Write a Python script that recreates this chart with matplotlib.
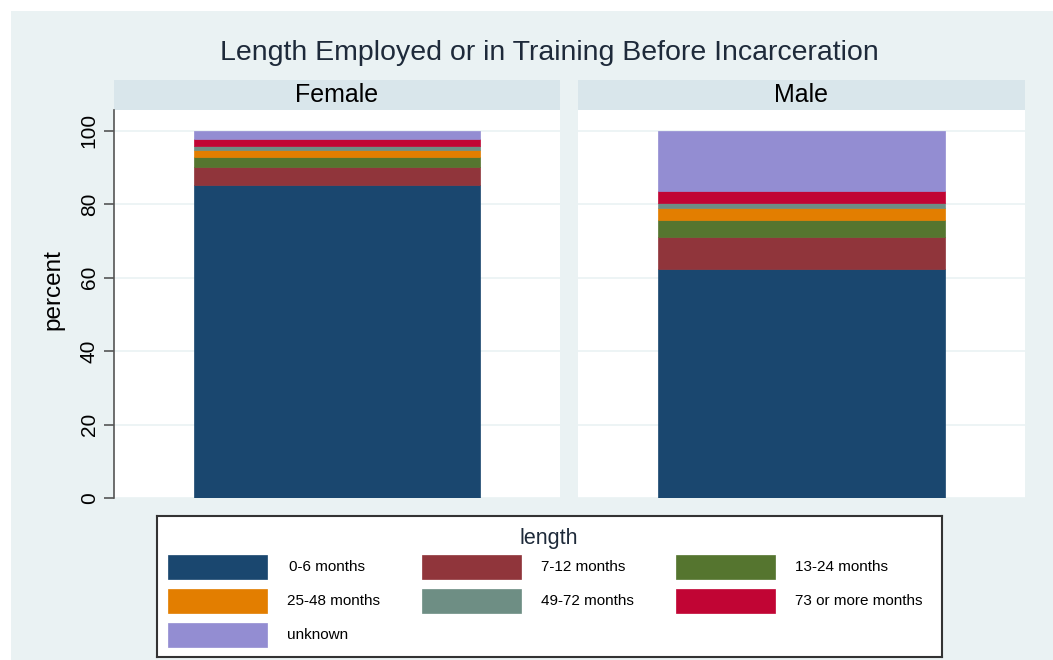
import matplotlib
matplotlib.use("Agg")
import matplotlib.pyplot as plt
from matplotlib.patches import Rectangle

plt.rcParams['font.family'] = ['Liberation Sans', 'DejaVu Sans']

panels = ["Female", "Male"]
categories = ["0-6 months", "7-12 months", "13-24 months", "25-48 months",
              "49-72 months", "73 or more months", "unknown"]
female = [85.3, 4.9, 2.7, 1.8, 1.1, 2.1, 2.1]
male = [62.4, 8.7, 4.6, 3.2, 1.6, 3.2, 16.3]
values = {"Female": female, "Male": male}
colors = ["#1a476f", "#90353b", "#55752f", "#e37e00", "#6e8e84", "#c10534", "#938dd2"]
yticks = [0, 20, 40, 60, 80, 100]
title = "Length Employed or in Training Before Incarceration"
ylabel = "percent"
legend_title = "length"

W, H = 1053, 660
fig = plt.figure(figsize=(W / 100, H / 100), dpi=100)
fig.patch.set_facecolor("white")

def fr(x0, y0, x1, y1):
    return [x0 / W, 1 - y1 / H, (x1 - x0) / W, (y1 - y0) / H]

bg = fig.add_axes(fr(11, 11, W, H))
bg.set_facecolor("#eaf2f3")
bg.set_xticks([]); bg.set_yticks([])
for s in bg.spines.values():
    s.set_visible(False)
bg.set_zorder(-10)

fig.text(549 / W, 1 - 53 / H, title, ha="center", va="center", fontsize=20.5, color="#1e2a3a")
fig.text(53 / W, 1 - 290 / H, ylabel, ha="center", va="center", rotation=90, fontsize=17.5)

panel_x = [(114, 560), (578, 1025)]
for i, (name, (x0, x1)) in enumerate(zip(panels, panel_x)):
    st = fig.add_axes(fr(x0, 80, x1, 110))
    st.set_facecolor("#d9e6eb")
    st.set_xticks([]); st.set_yticks([])
    for s in st.spines.values():
        s.set_visible(False)
    st.text(0.5, 0.5, name, ha="center", va="center", fontsize=18, transform=st.transAxes)

    ax = fig.add_axes(fr(x0, 110, x1, 498))
    ax.set_facecolor("white")
    ax.set_xlim(-0.5, 0.5)
    ax.set_ylim(0, 105.7)
    bottom = 0
    for v, c in zip(values[name], colors):
        ax.bar(0, v, width=0.642, bottom=bottom, color=c, edgecolor=c, linewidth=0.5, zorder=3)
        bottom += v
    ax.set_yticks(yticks)
    ax.yaxis.grid(True, color="#eaf2f3", linewidth=1.2, zorder=0)
    ax.set_xticks([])
    for s in ["top", "right", "bottom"]:
        ax.spines[s].set_visible(False)
    if i == 0:
        ax.spines["left"].set_color("#555555")
        ax.spines["left"].set_linewidth(1.2)
        ax.set_yticklabels([str(t) for t in yticks], rotation=90, va="center", fontsize=15)
        ax.tick_params(axis="y", length=7, width=1.2, color="#555555", pad=4)
    else:
        ax.spines["left"].set_visible(False)
        ax.tick_params(axis="y", length=0, labelleft=False)

# legend
lg = fig.add_axes(fr(157, 516, 942, 657))
lg.set_facecolor("white")
lg.set_xlim(157, 942)
lg.set_ylim(657, 516)
lg.set_xticks([]); lg.set_yticks([])
for s in lg.spines.values():
    s.set_color("#333333")
    s.set_linewidth(1.5)
lg.text(549, 538, legend_title, ha="center", va="center", fontsize=15.5, color="#1e2a3a")
col_x = [168, 422, 676]
row_y = [567, 601, 635]
for k, (lab, c) in enumerate(zip(categories, colors)):
    r, cc = divmod(k, 3)
    x = col_x[cc]; y = row_y[r]
    lg.add_patch(Rectangle((x, y - 12), 99, 24, facecolor=c, edgecolor=c, linewidth=0.5))
    lg.text(x + 119 + (2 if k == 0 else 0), y, lab, ha="left", va="center", fontsize=11)

fig.savefig("out.png", dpi=100)
